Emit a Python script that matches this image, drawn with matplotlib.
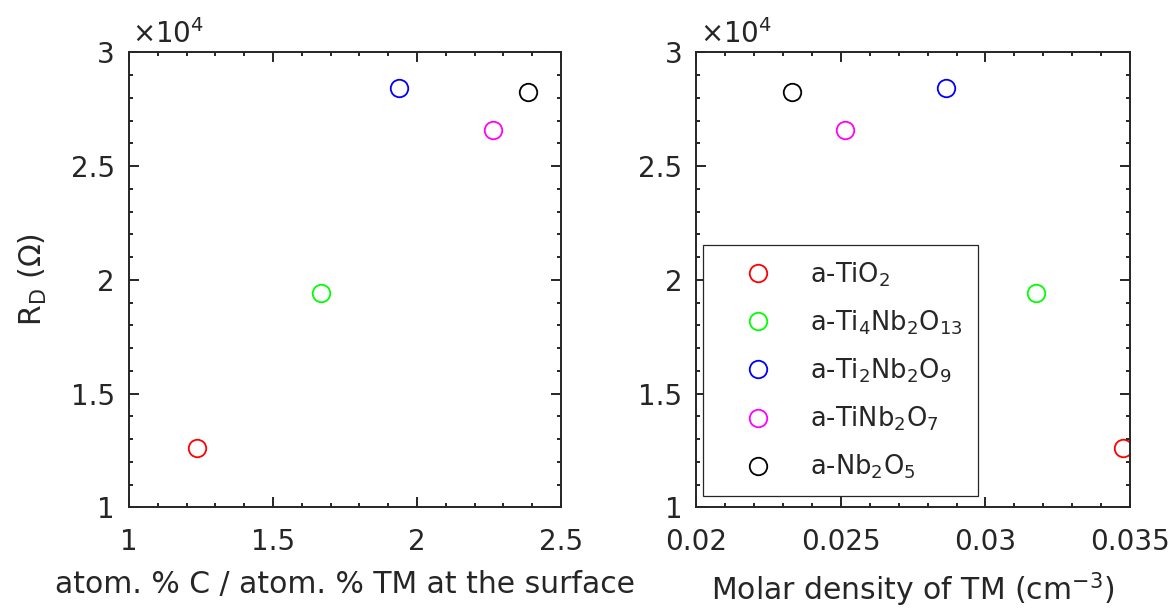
import matplotlib
matplotlib.use('Agg')
import matplotlib.pyplot as plt
from matplotlib.ticker import MultipleLocator, FuncFormatter

# ---- data ----
materials = ['a-TiO$_2$', 'a-Ti$_4$Nb$_2$O$_{13}$', 'a-Ti$_2$Nb$_2$O$_9$',
             'a-TiNb$_2$O$_7$', 'a-Nb$_2$O$_5$']
colors = ['#ff0000', '#00ff00', '#0000ff', '#ff00ff', '#000000']
c_ratio = [1.237, 1.667, 1.9375, 2.265, 2.384]          # atom.% C / atom.% TM
molar_density = [0.03477, 0.03174, 0.02864, 0.02514, 0.02331]  # cm^-3
r_d = [12630, 19415, 28450, 26600, 28270]               # Ohm

plt.rcParams.update({'font.family': ['DejaVu Sans'],
                     'mathtext.default': 'regular',
                     'font.size': 20})
AX = '#262626'

fig = plt.figure(figsize=(11.69, 6.11), dpi=100)
ax1 = fig.add_axes([0.11035, 0.16956, 0.36955, 0.74452])
ax2 = fig.add_axes([0.59564, 0.16956, 0.3710, 0.74452])

xfmt = FuncFormatter(lambda v, p: f'{v:g}')
yfmt = FuncFormatter(lambda v, p: f'{v / 1e4:g}')

for ax, xs in ((ax1, c_ratio), (ax2, molar_density)):
    for x, y, c, lab in zip(xs, r_d, colors, materials):
        ax.plot([x], [y], marker='o', ls='none', ms=12.6, mfc='none',
                mec=c, mew=1.3, label=lab)
    ax.set_ylim(1e4, 3e4)
    ax.yaxis.set_major_locator(MultipleLocator(5000))
    ax.yaxis.set_minor_locator(MultipleLocator(1000))
    ax.yaxis.set_major_formatter(yfmt)
    ax.xaxis.set_major_formatter(xfmt)
    ax.tick_params(which='both', direction='in', top=True, right=True,
                   color=AX, width=1.4, labelsize=20, labelcolor=AX)
    ax.tick_params(which='major', length=7)
    ax.tick_params(which='minor', length=3.2)
    ax.tick_params(axis='y', which='major', pad=10)
    ax.tick_params(axis='x', which='major', pad=15)
    for s in ax.spines.values():
        s.set_linewidth(1.4)
        s.set_color(AX)
    ax.annotate('×10$^{4}$', xy=(0, 1), xycoords='axes fraction',
                xytext=(2.5, 7), textcoords='offset points',
                ha='left', va='baseline', fontsize=20, color=AX)

ax1.set_xlim(1, 2.5)
ax1.xaxis.set_major_locator(MultipleLocator(0.5))
ax1.xaxis.set_minor_locator(MultipleLocator(0.1))
ax1.set_xlabel('atom. % C / atom. % TM at the surface', fontsize=21.5, color=AX, labelpad=10)
ax1.set_ylabel('R$_D$ ($\\Omega$)', fontsize=21.5, color=AX, labelpad=16)

ax2.set_xlim(0.02, 0.035)
ax2.xaxis.set_major_locator(MultipleLocator(0.005))
ax2.xaxis.set_minor_locator(MultipleLocator(0.001))
ax2.set_xlabel('Molar density of TM (cm$^{-3}$)', fontsize=21.5, color=AX, labelpad=10)

leg = ax2.legend(loc='upper left', bbox_to_anchor=(703 / 1169, 1 - 245 / 611),
                 bbox_transform=fig.transFigure, borderaxespad=0,
                 fontsize=18.5, handlelength=3.1, handletextpad=0.46,
                 borderpad=0.6, labelspacing=0.76, fancybox=False,
                 framealpha=1, edgecolor=AX, numpoints=1)
leg.get_frame().set_linewidth(0.9)
for t in leg.get_texts():
    t.set_color(AX)

fig.savefig('out.png', dpi=100)
